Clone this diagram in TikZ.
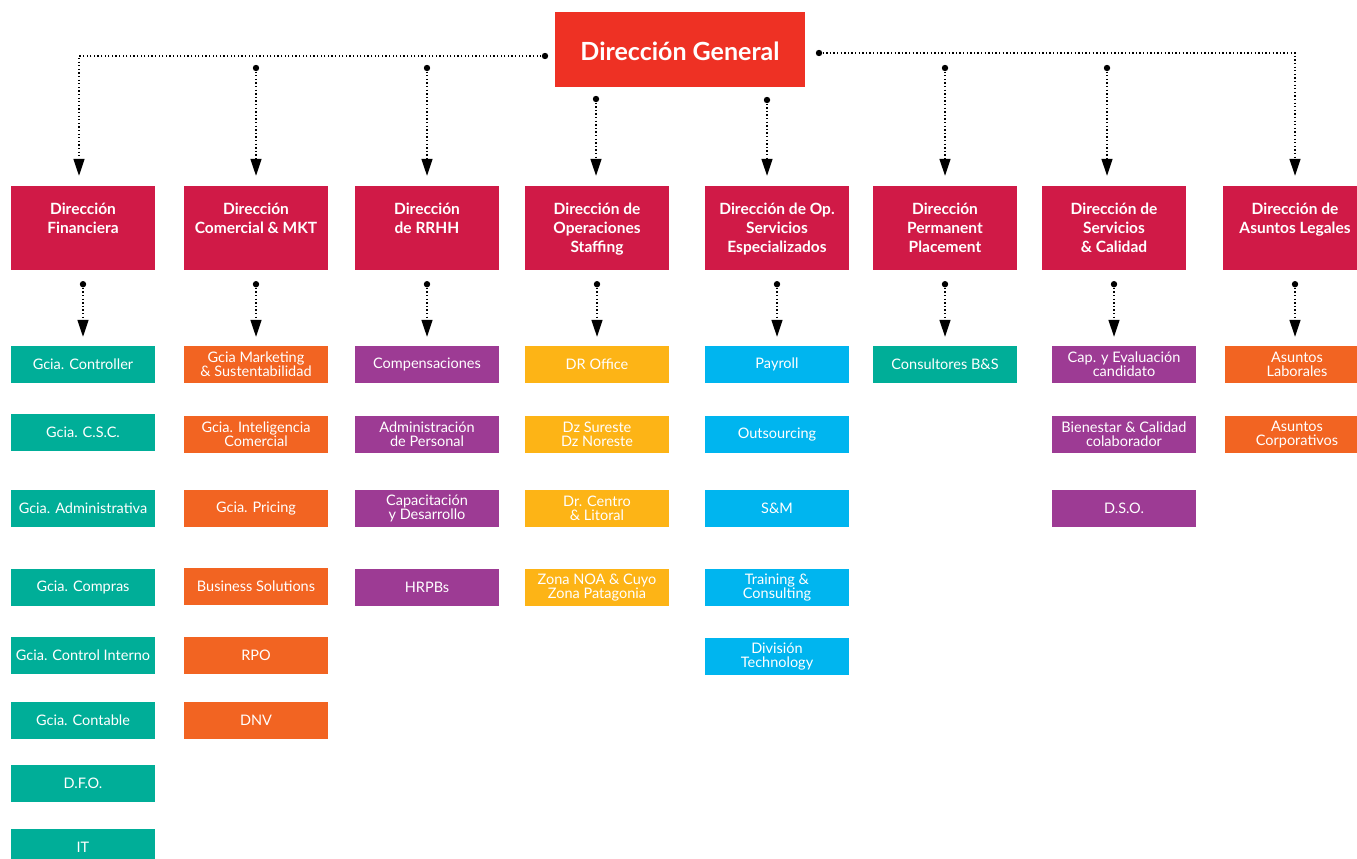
\documentclass[tikz,border=0pt]{standalone}
\usepackage{fontspec}
\setmainfont{Lato}
\usetikzlibrary{arrows.meta}
\definecolor{cRed}{HTML}{EE3124}
\definecolor{cCrim}{HTML}{D01A47}
\definecolor{cTeal}{HTML}{00AE98}
\definecolor{cOrange}{HTML}{F26422}
\definecolor{cPurple}{HTML}{9D3B94}
\definecolor{cYellow}{HTML}{FDB416}
\definecolor{cCyan}{HTML}{00B5EF}
\tikzset{
  leaf/.style={rectangle, fill=#1, draw=none, minimum width=144pt, minimum height=37pt,
    inner sep=1pt, text=white, align=center, font=\fontsize{14.5}{14}\selectfont},
  head/.style={rectangle, fill=cCrim, draw=none, minimum width=144pt, minimum height=84pt, inner sep=0pt},
  headtxt/.style={anchor=north, text=white, align=center, inner sep=0pt,
    font=\bfseries\fontsize{15.5}{19}\selectfont},
  conn/.style={line width=1.3pt, dash pattern=on 1.3pt off 2.3pt,
    -{Triangle[length=17pt,width=11pt]}, shorten >=10pt},
  sub/.style={line width=1.3pt, dash pattern=on 1.3pt off 2.3pt,
    -{Triangle[length=17pt,width=11pt]}, shorten >=9pt},
  dotc/.style={fill=black},
}
\begin{document}
\begin{tikzpicture}[x=1pt,y=-1pt]
\useasboundingbox (0,0) rectangle (1357,859);

% top node
\node[fill=cRed, minimum width=250pt, minimum height=75pt, text=white,
  text height=26pt, text depth=3pt, inner sep=0pt,
  font=\bfseries\fontsize{25}{28}\selectfont] (dg) at (680,49.5) {Dirección General};

% level 2
\node[head] (h1) at (83,228) {};
\node[head] (h2) at (256,228) {};
\node[head] (h3) at (427,228) {};
\node[head] (h4) at (597,228) {};
\node[head] (h5) at (777,228) {};
\node[head] (h6) at (945,228) {};
\node[head] (h7) at (1114,228) {};
\node[head] (h8) at (1295,228) {};
\node[headtxt] (t1) at ([yshift=-17pt]h1.north) {Dirección\\Financiera};
\node[headtxt] (t2) at ([yshift=-17pt]h2.north) {Dirección\\Comercial \& MKT};
\node[headtxt] (t3) at ([yshift=-17pt]h3.north) {Dirección\\de RRHH};
\node[headtxt] (t4) at ([yshift=-17pt]h4.north) {Dirección de\\Operaciones\\Staffing};
\node[headtxt] (t5) at ([yshift=-17pt]h5.north) {Dirección de Op.\\Servicios\\Especializados};
\node[headtxt] (t6) at ([yshift=-17pt]h6.north) {Dirección\\Permanent\\Placement};
\node[headtxt] (t7) at ([yshift=-17pt]h7.north) {Dirección de\\Servicios\\\& Calidad};
\node[headtxt] (t8) at ([yshift=-17pt]h8.north) {Dirección de\\Asuntos Legales};

% top connectors
\coordinate (gL) at (545,56);
\coordinate (gR) at (819,53);
\coordinate (d2) at (256,68);
\coordinate (d3) at (427,68);
\coordinate (d4) at (596,99);
\coordinate (d5) at (767,100);
\coordinate (d6) at (945,68);
\coordinate (d7) at (1107,68);
\draw[conn] (gL) -| ([xshift=-4pt]h1.north);
\draw[conn] (gR) -| (h8.north);
\foreach \d/\h in {d2/h2,d3/h3,d4/h4,d5/h5,d6/h6,d7/h7}
  \draw[conn] (\d) -- (\d |- \h.north);
\foreach \d in {gL,gR,d2,d3,d4,d5,d6,d7}
  \fill[dotc] (\d) circle (3.2pt);

% level 3
\node[leaf=cTeal] (a1) at (83,364.5) {Gcia. Controller};
\node[leaf=cTeal] (a2) at (83,432.5) {Gcia. C.S.C.};
\node[leaf=cTeal] (a3) at (83,508.5) {Gcia. Administrativa};
\node[leaf=cTeal] (a4) at (83,587.5) {Gcia. Compras};
\node[leaf=cTeal] (a5) at (83,655.5) {Gcia. Control Interno};
\node[leaf=cTeal] (a6) at (83,720.5) {Gcia. Contable};
\node[leaf=cTeal] (a7) at (83,783.5) {D.F.O.};
\node[leaf=cTeal] (a8) at (83,847.5) {IT};

\node[leaf=cOrange] (b1) at (256,364.5) {Gcia Marketing\\\& Sustentabilidad};
\node[leaf=cOrange] (b2) at (256,434.5) {Gcia. Inteligencia\\Comercial};
\node[leaf=cOrange] (b3) at (256,508.5) {Gcia. Pricing};
\node[leaf=cOrange] (b4) at (256,586.5) {Business Solutions};
\node[leaf=cOrange] (b5) at (256,655.5) {RPO};
\node[leaf=cOrange] (b6) at (256,720.5) {DNV};

\node[leaf=cPurple] (c1) at (427,364.5) {Compensaciones};
\node[leaf=cPurple] (c2) at (427,434.5) {Administración\\de Personal};
\node[leaf=cPurple] (c3) at (427,508.5) {Capacitación\\y Desarrollo};
\node[leaf=cPurple] (c4) at (427,587.5) {HRPBs};

\node[leaf=cYellow] (e1) at (597,364.5) {DR Office};
\node[leaf=cYellow] (e2) at (597,434.5) {Dz Sureste\\Dz Noreste};
\node[leaf=cYellow] (e3) at (597,508.5) {Dr. Centro\\\& Litoral};
\node[leaf=cYellow] (e4) at (597,587.5) {Zona NOA \& Cuyo\\Zona Patagonia};

\node[leaf=cCyan] (f1) at (777,364.5) {Payroll};
\node[leaf=cCyan] (f2) at (777,434.5) {Outsourcing};
\node[leaf=cCyan] (f3) at (777,508.5) {S\&M};
\node[leaf=cCyan] (f4) at (777,587.5) {Training \&\\Consulting};
\node[leaf=cCyan] (f5) at (777,656.5) {División\\Technology};

\node[leaf=cTeal] (g1) at (945,364.5) {Consultores B\&S};

\node[leaf=cPurple] (k1) at (1124,364.5) {Cap. y Evaluación\\candidato};
\node[leaf=cPurple] (k2) at (1124,434.5) {Bienestar \& Calidad\\colaborador};
\node[leaf=cPurple] (k3) at (1124,508.5) {D.S.O.};

\node[leaf=cOrange] (m1) at (1297,364.5) {Asuntos\\Laborales};
\node[leaf=cOrange] (m2) at (1297,434.5) {Asuntos\\Corporativos};

% level 2 -> level 3 connectors
\foreach \h/\l in {h1/a1,h2/b1,h3/c1,h4/e1,h5/f1,h6/g1,h7/k1,h8/m1} {
  \coordinate (\h-d) at ([yshift=-14pt]\h.south);
  \draw[sub] (\h-d) -- (\h-d |- \l.north);
  \fill[dotc] (\h-d) circle (3.2pt);
}
\end{tikzpicture}
\end{document}
